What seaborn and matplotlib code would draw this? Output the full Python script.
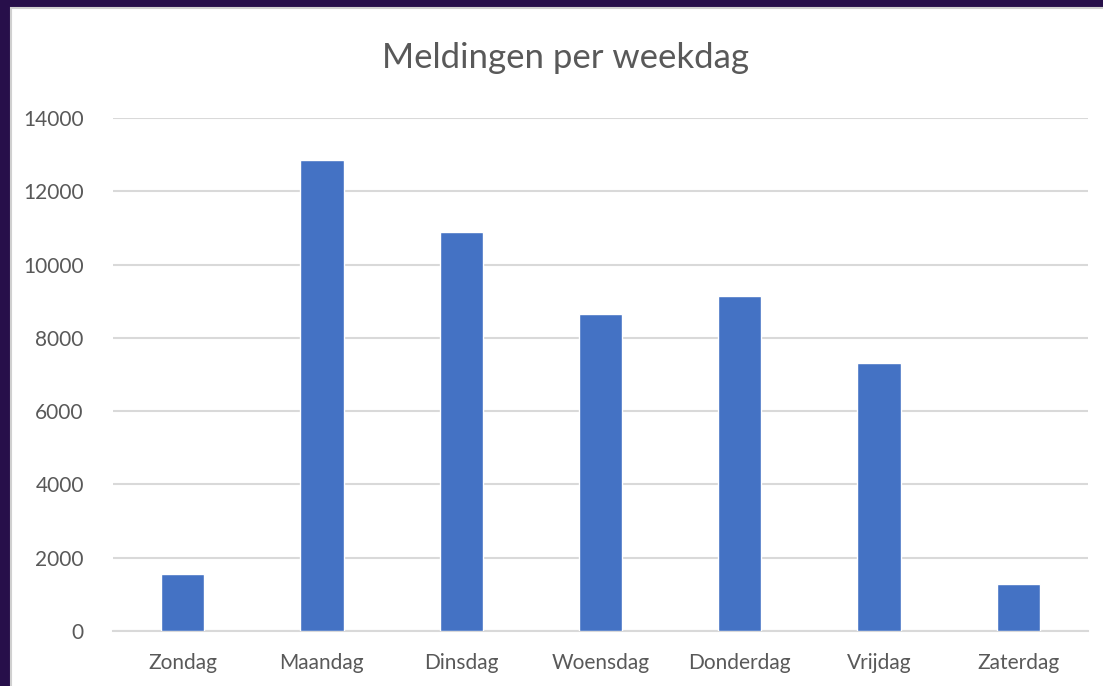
import matplotlib
matplotlib.use("Agg")
import matplotlib.pyplot as plt
from matplotlib.patches import Rectangle
import seaborn as sns
import pandas as pd

days = ["Zondag", "Maandag", "Dinsdag", "Woensdag", "Donderdag", "Vrijdag", "Zaterdag"]
counts = [1550, 12850, 10900, 8650, 9150, 7320, 1280]
y_ticks = [0, 2000, 4000, 6000, 8000, 10000, 12000, 14000]
title = "Meldingen per weekdag"

BAR = "#4472C4"
GRID = "#d9d9d9"
TEXT = "#595959"
FRAME = "#270f4a"

sns.set_theme(style="white")
plt.rcParams["font.family"] = ["Lato", "DejaVu Sans"]

W, H = 1103, 686
fig = plt.figure(figsize=(W / 100, H / 100), dpi=100, facecolor=FRAME)

# white chart canvas inside the dark frame (runs off the right and bottom edges)
fig.patches.append(Rectangle((11 / W, -0.05), 1.1, 1 - 8 / H + 0.05,
                             transform=fig.transFigure, facecolor="white",
                             edgecolor="#d0d0d0", linewidth=1.5, zorder=-5))

ax = fig.add_axes([113 / W, 1 - 631 / H, (1088 - 113) / W, (631 - 118) / H])
ax.set_zorder(2)
ax.set_facecolor("none")

df = pd.DataFrame({"dag": days, "aantal": counts})
sns.barplot(data=df, x="dag", y="aantal", color=BAR, width=0.31,
            saturation=1, ax=ax, zorder=3)

ax.set_ylim(0, 14000)
ax.set_xlim(-0.5, len(days) - 0.5)
ax.set_yticks(y_ticks)
ax.set_yticklabels([str(v) for v in y_ticks])
ax.yaxis.grid(True, color=GRID, linewidth=1.5, zorder=0)
ax.set_axisbelow(True)
for side in ["top", "right", "left"]:
    ax.spines[side].set_visible(False)
ax.spines["bottom"].set_color(GRID)
ax.spines["bottom"].set_linewidth(1.5)
ax.set_xlabel("")
ax.set_ylabel("")
ax.tick_params(axis="y", length=0, pad=21, labelsize=15, labelcolor=TEXT)
ax.tick_params(axis="x", length=0, pad=16, labelsize=15, labelcolor=TEXT)

fig.text(565 / W, 1 - 58 / H, title, ha="center", va="center",
         fontsize=25, color=TEXT, zorder=3)

fig.savefig("out.png", dpi=100, facecolor=FRAME)
